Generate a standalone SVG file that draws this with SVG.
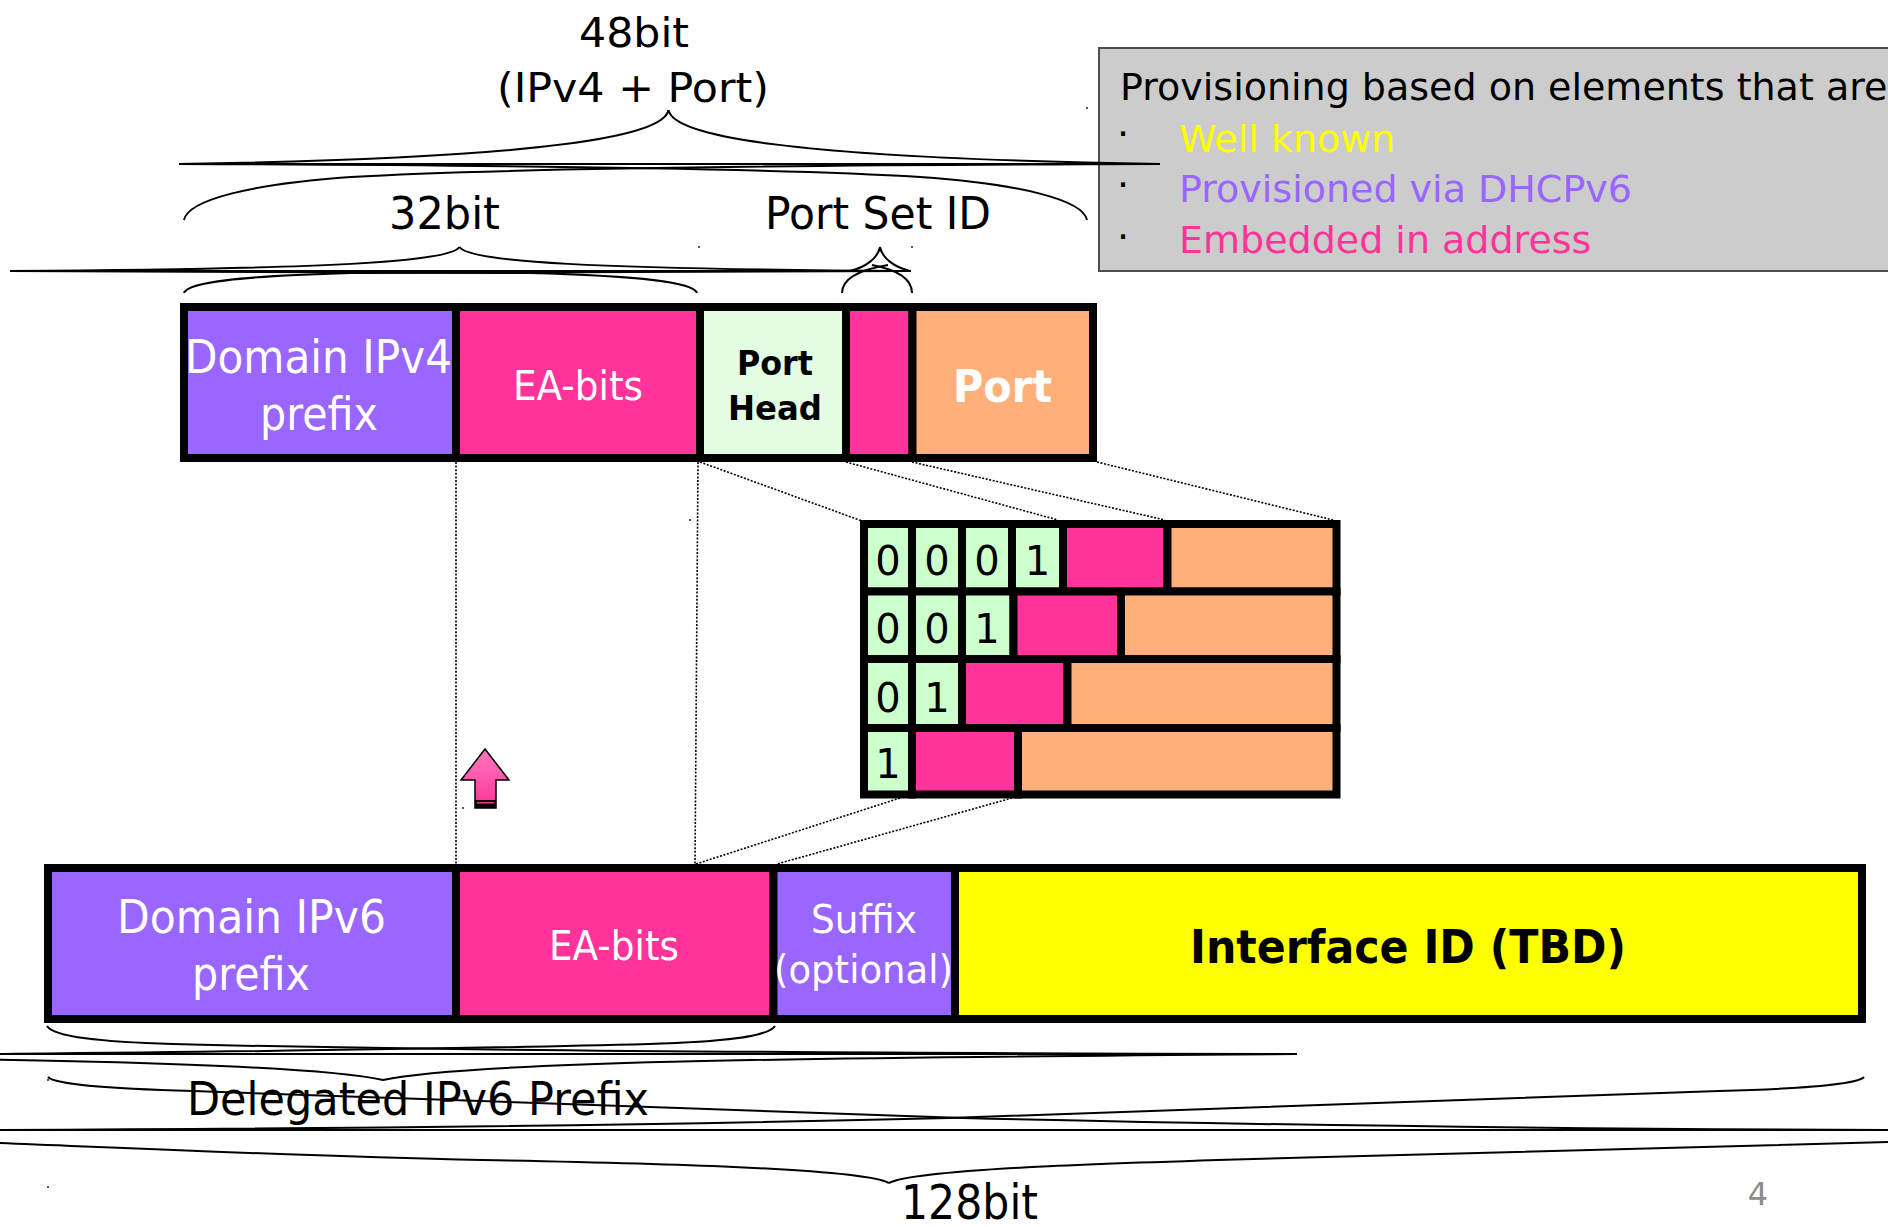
<svg xmlns="http://www.w3.org/2000/svg" width="1888" height="1227" viewBox="0 0 1888 1227">
  <defs>
    <linearGradient id="arrowFill" x1="0" y1="0" x2="0" y2="1">
      <stop offset="0" stop-color="#ff78bc"/>
      <stop offset="1" stop-color="#ff3399"/>
    </linearGradient>
  </defs>
  <style>
    .cell { stroke: #000; stroke-width: 8; }
    .purple { fill: #9966ff; }
    .pink { fill: #ff3399; }
    .orange { fill: #ffb07a; }
    .head { fill: #e2fde2; }
    .bit { fill: #ccffcc; }
    .yellow { fill: #ffff00; }
    text { font-family: "DejaVu Sans", "Liberation Sans", sans-serif; }
    .lbl { fill: #000; text-anchor: middle; }
    .wlbl { fill: #fff; text-anchor: middle; }
    .bold { font-weight: bold; }
    .digit { font-size: 40px; fill: #000; text-anchor: middle; }
    .brace { fill: none; stroke: #000; stroke-width: 2; }
    .dotted { fill: none; stroke: #000; stroke-width: 1.6; stroke-dasharray: 2 1.6; }
    .speck { fill: #555; }
  </style>

  <!-- legend box -->
  <g id="legend">
    <rect x="1099" y="48" width="820" height="223" fill="#cccccc" stroke="#4d4d4d" stroke-width="2"/>
    <text x="1120" y="100" font-size="38" fill="#000">Provisioning based on elements that are</text>
    <text x="1117" y="147" font-size="38" fill="#000">·</text>
    <text x="1117" y="198" font-size="38" fill="#000">·</text>
    <text x="1117" y="250" font-size="38" fill="#000">·</text>
    <text x="1179" y="152" font-size="38" fill="#ffff00">Well known</text>
    <text x="1179" y="202" font-size="38" fill="#9966ff">Provisioned via DHCPv6</text>
    <text x="1179" y="253" font-size="38" fill="#ff3399">Embedded in address</text>
  </g>

  <!-- size labels above the IPv4 word -->
  <g id="labels-top">
    <text class="lbl" x="634" y="47" font-size="41" textLength="110" lengthAdjust="spacingAndGlyphs">48bit</text>
    <text class="lbl" x="633" y="102" font-size="41" textLength="272" lengthAdjust="spacingAndGlyphs">(IPv4 + Port)</text>
    <text class="lbl" x="444.5" y="229" font-size="44" textLength="111" lengthAdjust="spacingAndGlyphs">32bit</text>
    <text class="lbl" x="878" y="229" font-size="44" textLength="226" lengthAdjust="spacingAndGlyphs">Port Set ID</text>
  </g>

  <!-- braces -->
  <g id="braces">
    <!-- 48bit -->
    <path class="brace" d="M179,164 H1160"/>
    <path class="brace" d="M668.5,110 C664,135 560,158 179,164"/>
    <path class="brace" d="M668.5,110 C673,135 777,158 1160,164"/>
    <path class="brace" d="M184,220 C188,200 250,184 351,177 C500,168 800,165 1160,164"/>
    <path class="brace" d="M1087,220 C1083,200 1021,184 920,177 C771,168 471,165 179,164"/>
    <!-- 32bit -->
    <path class="brace" d="M10,271 H911"/>
    <path class="brace" d="M459.5,247 C450,262 330,269 10,271"/>
    <path class="brace" d="M459.5,247 C469,262 589,269 911,271"/>
    <path class="brace" d="M184,293 C188,282 240,276 351,273 C500,271 700,271 911,271"/>
    <path class="brace" d="M697,293 C693,282 641,276 530,273 C381,271 200,271 10,271"/>
    <!-- Port Set ID -->
    <path class="brace" d="M880,247 C878,258 866,267 850,271"/>
    <path class="brace" d="M880,247 C882,258 894,267 910,271"/>
    <path class="brace" d="M842,293 C842,279 858,270 888,265"/>
    <path class="brace" d="M912,293 C912,279 898,270 872,265"/>
    <!-- Delegated IPv6 Prefix -->
    <path class="brace" d="M0,1054 H1297"/>
    <path class="brace" d="M-531,1054 C0,1058 300,1062 383,1080 C466,1062 766,1058 1297,1054"/>
    <path class="brace" d="M47,1026 C54,1037 100,1042 173,1044 C400,1050 800,1053 1297,1054"/>
    <path class="brace" d="M775,1026 C768,1037 722,1042 649,1044 C422,1050 100,1053 0,1054"/>
    <!-- 128bit -->
    <path class="brace" d="M0,1130 H1888" stroke-width="3"/>
    <path class="brace" d="M889,1183 C860,1168 640,1163 482,1160 C300,1156 150,1149 0,1143"/>
    <path class="brace" d="M889,1183 C918,1168 1140,1162 1325,1157 C1520,1152 1700,1147 1888,1142"/>
    <path class="brace" d="M48,1077 C55,1085 120,1089 193,1091 C400,1098 650,1107 963,1118 C1300,1126 1600,1129 1888,1130"/>
    <path class="brace" d="M1864,1077 C1857,1085 1792,1089 1719,1091 C1512,1098 1262,1107 949,1118 C612,1126 312,1129 0,1130"/>
  </g>

  <!-- IPv4 address + port word -->
  <g id="ipv4-prefix">
    <rect class="cell purple" x="184" y="307" width="272" height="151"/>
    <text class="wlbl" x="318.5" y="373" font-size="46" textLength="267" lengthAdjust="spacingAndGlyphs">Domain IPv4</text>
    <text class="wlbl" x="319" y="430" font-size="46" textLength="118" lengthAdjust="spacingAndGlyphs">prefix</text>
  </g>
  <g id="ipv4-ea-bits">
    <rect class="cell pink" x="456" y="307" width="244" height="151"/>
    <text class="wlbl" x="578" y="400" font-size="41" textLength="130" lengthAdjust="spacingAndGlyphs">EA-bits</text>
  </g>
  <g id="port-head">
    <rect class="cell head" x="700" y="307" width="146" height="151"/>
    <text class="lbl bold" x="775" y="375" font-size="34" textLength="76" lengthAdjust="spacingAndGlyphs">Port</text>
    <text class="lbl bold" x="775" y="420" font-size="34" textLength="94" lengthAdjust="spacingAndGlyphs">Head</text>
  </g>
  <g id="port-set-id">
    <rect class="cell pink" x="846" y="307" width="66.5" height="151"/>
  </g>
  <g id="port">
    <rect class="cell orange" x="912.5" y="307" width="180.5" height="151"/>
    <text class="wlbl bold" x="1002.5" y="402" font-size="44" textLength="99" lengthAdjust="spacingAndGlyphs">Port</text>
  </g>

  <!-- port set table -->
  <g id="psid-row-1">
    <rect class="cell bit" x="864" y="524" width="48" height="67.5"/>
    <rect class="cell bit" x="912" y="524" width="50" height="67.5"/>
    <rect class="cell bit" x="962" y="524" width="50" height="67.5"/>
    <rect class="cell bit" x="1012" y="524" width="51" height="67.5"/>
    <rect class="cell pink" x="1063" y="524" width="104.5" height="67.5"/>
    <rect class="cell orange" x="1167.5" y="524" width="169" height="67.5"/>
    <text class="digit" x="888" y="575">0</text>
    <text class="digit" x="937" y="575">0</text>
    <text class="digit" x="987" y="575">0</text>
    <text class="digit" x="1037.5" y="575">1</text>
  </g>
  <g id="psid-row-2">
    <rect class="cell bit" x="864" y="591.5" width="48" height="67.5"/>
    <rect class="cell bit" x="912" y="591.5" width="50" height="67.5"/>
    <rect class="cell bit" x="962" y="591.5" width="51.5" height="67.5"/>
    <rect class="cell pink" x="1013.5" y="591.5" width="107.5" height="67.5"/>
    <rect class="cell orange" x="1121" y="591.5" width="215.5" height="67.5"/>
    <text class="digit" x="888" y="643">0</text>
    <text class="digit" x="937" y="643">0</text>
    <text class="digit" x="987" y="643">1</text>
  </g>
  <g id="psid-row-3">
    <rect class="cell bit" x="864" y="659" width="48" height="69"/>
    <rect class="cell bit" x="912" y="659" width="50" height="69"/>
    <rect class="cell pink" x="962" y="659" width="105.5" height="69"/>
    <rect class="cell orange" x="1067.5" y="659" width="269" height="69"/>
    <text class="digit" x="888" y="712">0</text>
    <text class="digit" x="937" y="712">1</text>
  </g>
  <g id="psid-row-4">
    <rect class="cell bit" x="864" y="728" width="48" height="66.5"/>
    <rect class="cell pink" x="912" y="728" width="106" height="66.5"/>
    <rect class="cell orange" x="1018" y="728" width="318.5" height="66.5"/>
    <text class="digit" x="888" y="778">1</text>
  </g>

  <!-- IPv6 address -->
  <g id="ipv6-prefix">
    <rect class="cell purple" x="48" y="868" width="408" height="151"/>
    <text class="wlbl" x="251.5" y="933" font-size="46" textLength="269" lengthAdjust="spacingAndGlyphs">Domain IPv6</text>
    <text class="wlbl" x="251" y="990" font-size="46" textLength="118" lengthAdjust="spacingAndGlyphs">prefix</text>
  </g>
  <g id="ipv6-ea-bits">
    <rect class="cell pink" x="456" y="868" width="317.5" height="151"/>
    <text class="wlbl" x="614" y="960" font-size="41" textLength="130" lengthAdjust="spacingAndGlyphs">EA-bits</text>
  </g>
  <g id="suffix">
    <rect class="cell purple" x="773.5" y="868" width="181.5" height="151"/>
    <text class="wlbl" x="864" y="933" font-size="39" textLength="106" lengthAdjust="spacingAndGlyphs">Suffix</text>
    <text class="wlbl" x="863.5" y="983" font-size="39" textLength="179" lengthAdjust="spacingAndGlyphs">(optional)</text>
  </g>
  <g id="interface-id">
    <rect class="cell yellow" x="955" y="868" width="907" height="151"/>
    <text class="lbl bold" x="1408" y="963" font-size="47" textLength="436" lengthAdjust="spacingAndGlyphs">Interface ID (TBD)</text>
  </g>

  <!-- dotted guide lines -->
  <g id="connectors">
    <path class="dotted" d="M456,462 V864"/>
    <path class="dotted" d="M698,462 L695,864"/>
    <path class="dotted" d="M700,462 L862,521"/>
    <path class="dotted" d="M846,462 L1058,520"/>
    <path class="dotted" d="M912,462 L1165,520"/>
    <path class="dotted" d="M1097,462 L1333,520"/>
    <path class="dotted" d="M900,798 L696,864"/>
    <path class="dotted" d="M1012,798 L777,864"/>
  </g>

  <!-- upward arrow -->
  <g id="arrow">
    <path d="M485,749 L509,780 L496,780 L496,808 L475,808 L475,780 L461,780 Z" fill="url(#arrowFill)" stroke="#000" stroke-width="1.5"/>
    <rect x="475" y="800" width="21" height="8" fill="#000"/>
    <rect x="477" y="802" width="17" height="1.5" fill="#ff3399"/>
  </g>

  <!-- bottom labels -->
  <g id="labels-bottom">
    <text x="187" y="1115" font-size="47" fill="#000" textLength="462" lengthAdjust="spacingAndGlyphs">Delegated IPv6 Prefix</text>
    <text class="lbl" x="969.5" y="1219" font-size="48" textLength="137" lengthAdjust="spacingAndGlyphs">128bit</text>
    <text x="1758" y="1205" font-size="32" fill="#8c8c8c" text-anchor="middle">4</text>
  </g>

  <!-- stray specks -->
  <g id="specks">
    <rect class="speck" x="698" y="246" width="2" height="2"/>
    <rect class="speck" x="911" y="246" width="2" height="2"/>
    <rect class="speck" x="1086" y="107" width="2" height="2"/>
    <rect class="speck" x="689" y="519" width="2" height="2"/>
    <rect class="speck" x="462" y="807" width="2" height="2"/>
    <rect class="speck" x="47" y="1079" width="2" height="2"/>
    <rect class="speck" x="47" y="1186" width="2" height="2"/>
  </g>
</svg>
